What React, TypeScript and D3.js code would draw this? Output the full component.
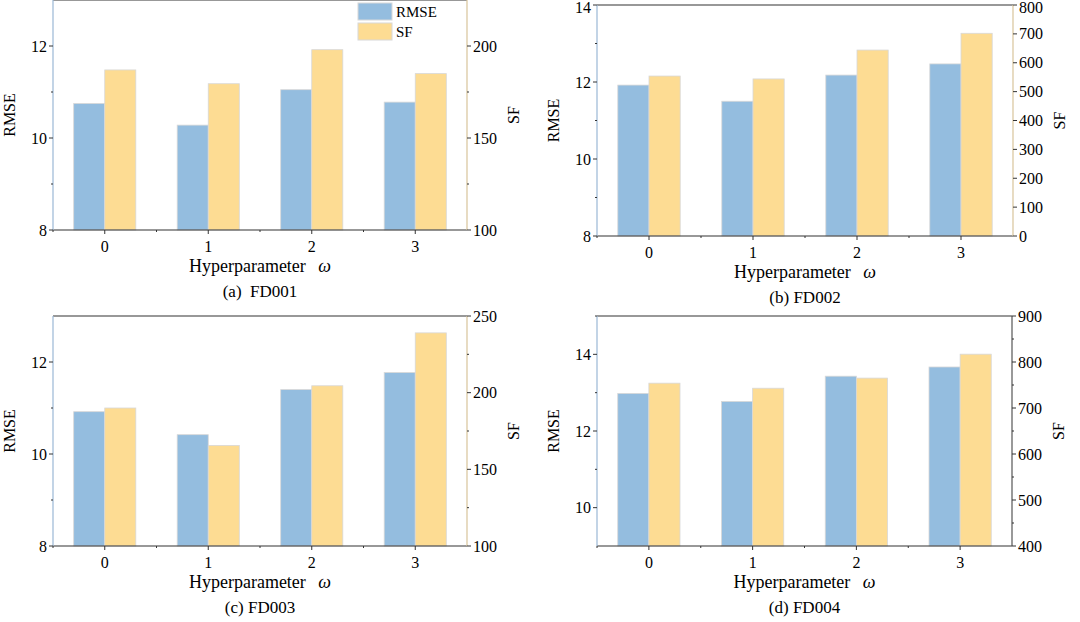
import * as d3 from "d3";

const categories = ["0", "1", "2", "3"];

const rmseA = [10.75, 10.28, 11.05, 10.78];
const sfA = [187, 179.5, 198, 185];
const rmseB = [11.92, 11.5, 12.18, 12.47];
const sfB = [554, 544, 644, 702];
const rmseC = [10.92, 10.42, 11.4, 11.77];
const sfC = [190, 165.6, 204.5, 239];
const rmseD = [12.98, 12.77, 13.43, 13.67];
const sfD = [754, 743, 765, 817];

const BLUE = "#94bddf";
const YELLOW = "#fddc93";
const FONT = "Liberation Serif, Times New Roman, serif";

type PanelProps = {
  x0: number; x1: number; y0: number; y1: number;
  rmse: number[]; sf: number[];
  lDomain: [number, number]; lTicks: number[]; lMinor: number[];
  rDomain: [number, number]; rTicks: number[]; rMinor: number[];
  rightColor: string; caption: string; legend?: boolean;
};

const Panel = (p: PanelProps) => {
  const x = d3.scaleBand().domain(categories).range([p.x0, p.x1]).padding(0);
  const yl = d3.scaleLinear().domain(p.lDomain).range([p.y1, p.y0]);
  const yr = d3.scaleLinear().domain(p.rDomain).range([p.y1, p.y0]);
  const bw = x.bandwidth() * 0.3;
  const leftColor = "#9ab8d6";
  // keep labels at the very top inside the picture
  const ly = (v: number) => Math.max(yl(v), 7);
  const ry = (v: number) => Math.max(yr(v), 7);
  return (
    <g fontFamily={FONT}>
      {categories.map((c, i) => {
        const cx = (x(c) ?? 0) + x.bandwidth() / 2;
        return (
          <g key={c}>
            <rect x={cx - bw} y={yl(p.rmse[i])} width={bw} height={p.y1 - yl(p.rmse[i])} fill={BLUE} stroke="#d8d8d8" strokeWidth={0.8} />
            <rect x={cx} y={yr(p.sf[i])} width={bw} height={p.y1 - yr(p.sf[i])} fill={YELLOW} stroke="#d8d8d8" strokeWidth={0.8} />
          </g>
        );
      })}
      <line x1={p.x0} x2={p.x1} y1={p.y0} y2={p.y0} stroke="#333" strokeWidth={1.2} />
      <line x1={p.x0} x2={p.x1} y1={p.y1} y2={p.y1} stroke="#333" strokeWidth={1.2} />
      <line x1={p.x0} x2={p.x0} y1={p.y0} y2={p.y1} stroke={leftColor} strokeWidth={1.2} />
      <line x1={p.x1} x2={p.x1} y1={p.y0} y2={p.y1} stroke={p.rightColor} strokeWidth={1.2} />
      {categories.map((c) => {
        const cx = (x(c) ?? 0) + x.bandwidth() / 2;
        return (
          <g key={"t" + c}>
            <line x1={cx} x2={cx} y1={p.y1} y2={p.y1 + 4} stroke="#333" />
            <line x1={x(c)} x2={x(c)} y1={p.y1} y2={p.y1 + 2} stroke="#333" />
            <text x={cx} y={p.y1 + 22} textAnchor="middle" fontSize={16}>{c}</text>
          </g>
        );
      })}
      {p.lTicks.map((t) => (
        <g key={"l" + t}>
          <line x1={p.x0 - 4} x2={p.x0} y1={yl(t)} y2={yl(t)} stroke="#333" />
          <text x={p.x0 - 6} y={ly(t)} dy="0.35em" textAnchor="end" fontSize={16}>{t}</text>
        </g>
      ))}
      {p.lMinor.map((t) => (
        <line key={"lm" + t} x1={p.x0 - 2} x2={p.x0} y1={yl(t)} y2={yl(t)} stroke="#333" />
      ))}
      {p.rTicks.map((t) => (
        <g key={"r" + t}>
          <line x1={p.x1} x2={p.x1 + 4} y1={yr(t)} y2={yr(t)} stroke="#333" />
          <text x={p.x1 + 6} y={ry(t)} dy="0.35em" textAnchor="start" fontSize={16}>{t}</text>
        </g>
      ))}
      {p.rMinor.map((t) => (
        <line key={"rm" + t} x1={p.x1} x2={p.x1 + 2} y1={yr(t)} y2={yr(t)} stroke="#333" />
      ))}
      <text transform={`translate(${p.x0 - 38},${(p.y0 + p.y1) / 2}) rotate(-90)`} textAnchor="middle" fontSize={16}>RMSE</text>
      <text transform={`translate(${p.x1 + 52},${(p.y0 + p.y1) / 2}) rotate(-90)`} textAnchor="middle" fontSize={16}>SF</text>
      <text x={(p.x0 + p.x1) / 2} y={p.y1 + 42} textAnchor="middle" fontSize={18}>
        Hyperparameter <tspan fontStyle="italic" dx={8}>ω</tspan>
      </text>
      <text x={(p.x0 + p.x1) / 2} y={p.y1 + 67} textAnchor="middle" fontSize={17} xmlSpace="preserve">{p.caption}</text>
      {p.legend && (
        <g>
          <rect x={358} y={3} width={34} height={17} fill={BLUE} stroke="#d8d8d8" />
          <rect x={358} y={23} width={34} height={17} fill={YELLOW} stroke="#d8d8d8" />
          <text x={396} y={12} dy="0.35em" fontSize={15}>RMSE</text>
          <text x={396} y={32} dy="0.35em" fontSize={15}>SF</text>
        </g>
      )}
    </g>
  );
};

export default function App() {
  return (
    <svg width={1080} height={622} style={{ position: "absolute", left: 0, top: 0, background: "#fff" }}>
      <Panel x0={53} x1={467} y0={0} y1={230} rmse={rmseA} sf={sfA}
        lDomain={[8, 13]} lTicks={[8, 10, 12]} lMinor={[9, 11]}
        rDomain={[100, 225]} rTicks={[100, 150, 200]} rMinor={[125, 175]}
        rightColor="#d8c49a" caption="(a)  FD001" legend />
      <Panel x0={597} x1={1013} y0={5} y1={236} rmse={rmseB} sf={sfB}
        lDomain={[8, 14]} lTicks={[8, 10, 12, 14]} lMinor={[9, 11, 13]}
        rDomain={[0, 800]} rTicks={[0, 100, 200, 300, 400, 500, 600, 700, 800]} rMinor={[]}
        rightColor="#d8c49a" caption="(b) FD002" />
      <Panel x0={53} x1={467} y0={316} y1={546} rmse={rmseC} sf={sfC}
        lDomain={[8, 13]} lTicks={[8, 10, 12]} lMinor={[9, 11]}
        rDomain={[100, 250]} rTicks={[100, 150, 200, 250]} rMinor={[125, 175, 225]}
        rightColor="#d8c49a" caption="(c) FD003" />
      <Panel x0={597} x1={1012} y0={316} y1={546} rmse={rmseD} sf={sfD}
        lDomain={[9, 15]} lTicks={[10, 12, 14]} lMinor={[11, 13, 15]}
        rDomain={[400, 900]} rTicks={[400, 500, 600, 700, 800, 900]} rMinor={[450, 550, 650, 750, 850]}
        rightColor="#555" caption="(d) FD004" />
    </svg>
  );
}
